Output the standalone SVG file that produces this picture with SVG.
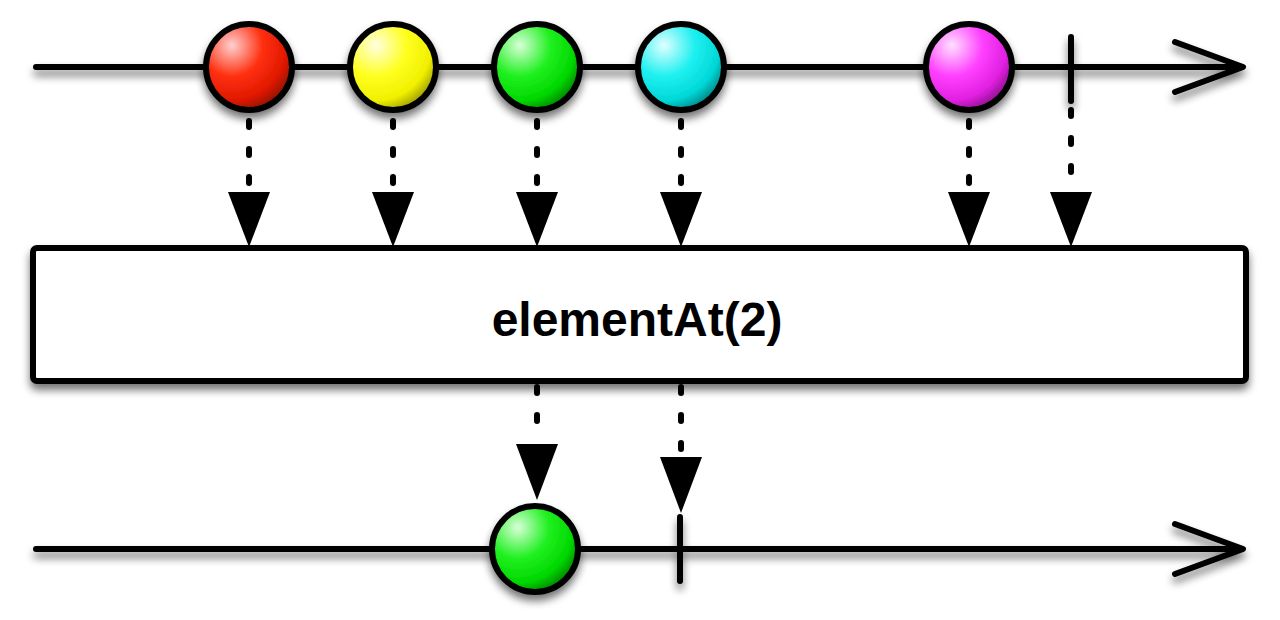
<svg xmlns="http://www.w3.org/2000/svg" width="1280" height="620" viewBox="0 0 1280 620">
<defs>
<filter id="sh" x="-20%" y="-20%" width="140%" height="160%">
<feGaussianBlur in="SourceAlpha" stdDeviation="4"/>
<feOffset dx="0" dy="6" result="b"/>
<feComponentTransfer><feFuncA type="linear" slope="0.55"/></feComponentTransfer>
<feMerge><feMergeNode/><feMergeNode in="SourceGraphic"/></feMerge>
</filter>
<radialGradient id="gRed" cx="0.3" cy="0.25" r="0.8"><stop offset="0" stop-color="#ffd0d0"/><stop offset="0.45" stop-color="#ff3010"/><stop offset="0.8" stop-color="#e01800"/><stop offset="1" stop-color="#901000"/></radialGradient>
<radialGradient id="gYel" cx="0.3" cy="0.25" r="0.8"><stop offset="0" stop-color="#ffffe0"/><stop offset="0.45" stop-color="#ffff20"/><stop offset="0.8" stop-color="#f0f000"/><stop offset="1" stop-color="#a0a000"/></radialGradient>
<radialGradient id="gGrn" cx="0.3" cy="0.25" r="0.8"><stop offset="0" stop-color="#d8ffd8"/><stop offset="0.45" stop-color="#20f020"/><stop offset="0.8" stop-color="#00d800"/><stop offset="1" stop-color="#008800"/></radialGradient>
<radialGradient id="gCyn" cx="0.3" cy="0.25" r="0.8"><stop offset="0" stop-color="#e0ffff"/><stop offset="0.45" stop-color="#20f0f0"/><stop offset="0.8" stop-color="#00d8d8"/><stop offset="1" stop-color="#008888"/></radialGradient>
<radialGradient id="gMag" cx="0.3" cy="0.25" r="0.8"><stop offset="0" stop-color="#ffe0ff"/><stop offset="0.45" stop-color="#ff40ff"/><stop offset="0.8" stop-color="#e020e0"/><stop offset="1" stop-color="#901090"/></radialGradient>
</defs>
<style>
.line{stroke:#000;stroke-width:6;fill:none;stroke-linecap:round;stroke-linejoin:round}
.ball{stroke:#000;stroke-width:6}
.dash{stroke:#000;stroke-width:6;fill:none;stroke-linecap:round;stroke-dasharray:6 22}
.tri{fill:#000}
.lbl{font-family:"Liberation Sans",Arial,Helvetica,sans-serif;font-weight:bold;font-size:48px;fill:#000}
</style>
<rect width="1280" height="620" fill="#fff"/>
<g id="connectors">
<line class="dash" x1="249" y1="121" x2="249" y2="190"/>
<polygon class="tri" points="228,192 270,192 249,247"/>
<line class="dash" x1="393" y1="121" x2="393" y2="190"/>
<polygon class="tri" points="372,192 414,192 393,247"/>
<line class="dash" x1="537" y1="121" x2="537" y2="190"/>
<polygon class="tri" points="516,192 558,192 537,247"/>
<line class="dash" x1="681" y1="121" x2="681" y2="190"/>
<polygon class="tri" points="660,192 702,192 681,247"/>
<line class="dash" x1="969" y1="121" x2="969" y2="190"/>
<polygon class="tri" points="948,192 990,192 969,247"/>
<line class="dash" x1="1071" y1="110" x2="1071" y2="190"/>
<polygon class="tri" points="1050,192 1092,192 1071,247"/>
<line class="dash" x1="537" y1="387" x2="537" y2="442"/>
<polygon class="tri" points="516,444 558,444 537,500"/>
<line class="dash" x1="681" y1="387" x2="681" y2="455"/>
<polygon class="tri" points="660,457 702,457 681,513"/>
</g>
<g id="top-timeline" filter="url(#sh)">
<line class="line" x1="36" y1="67" x2="1240" y2="67"/>
<polyline class="line" points="1175,42 1243,67 1175,92"/>
<line class="line" x1="1071" y1="37" x2="1071" y2="101"/>
</g>
<g id="marble-red" filter="url(#sh)"><circle class="ball" cx="249" cy="67" r="43" fill="url(#gRed)"/></g>
<g id="marble-yellow" filter="url(#sh)"><circle class="ball" cx="393" cy="67" r="43" fill="url(#gYel)"/></g>
<g id="marble-green" filter="url(#sh)"><circle class="ball" cx="537" cy="67" r="43" fill="url(#gGrn)"/></g>
<g id="marble-cyan" filter="url(#sh)"><circle class="ball" cx="681" cy="67" r="43" fill="url(#gCyn)"/></g>
<g id="marble-magenta" filter="url(#sh)"><circle class="ball" cx="969" cy="67" r="43" fill="url(#gMag)"/></g>
<g id="operator" filter="url(#sh)">
<rect x="33" y="248" width="1213" height="133" rx="4" fill="#fff" stroke="#000" stroke-width="6"/>
</g>
<text class="lbl" x="637" y="336" text-anchor="middle">elementAt(2)</text>
<g id="bottom-timeline" filter="url(#sh)">
<line class="line" x1="36" y1="549" x2="1240" y2="549"/>
<polyline class="line" points="1175,524 1243,549 1175,574"/>
<line class="line" x1="680" y1="517" x2="680" y2="581"/>
</g>
<g id="result-green" filter="url(#sh)"><circle class="ball" cx="535" cy="549" r="43" fill="url(#gGrn)"/></g>
</svg>
